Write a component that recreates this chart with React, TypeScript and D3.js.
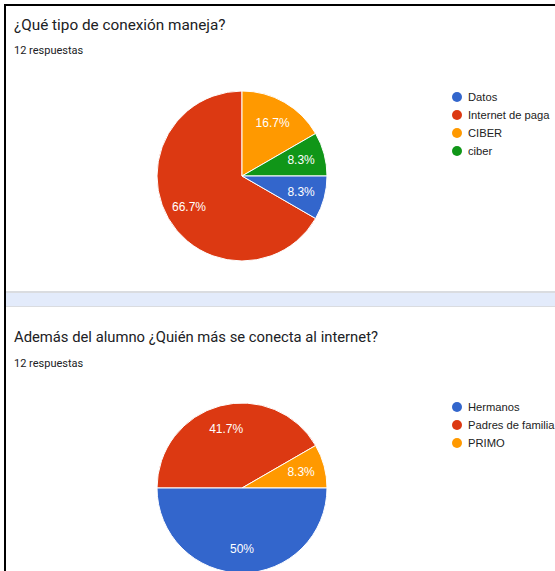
import React from "react";
import * as d3 from "d3";

const W = 555;
const H = 571;

// Chart 1
const title1 = "¿Qué tipo de conexión maneja?";
const sub1 = "12 respuestas";
const legend1 = ["Datos", "Internet de paga", "CIBER", "ciber"];
const legendColors1 = ["#3366cc", "#dc3912", "#ff9900", "#109618"];
// drawing order (clockwise)
const slices1 = ["Internet de paga", "CIBER", "ciber", "Datos"];
const values1 = [8, 2, 1, 1];
const labels1 = ["66.7%", "16.7%", "8.3%", "8.3%"];

// Chart 2
const title2 = "Además del alumno ¿Quién más se conecta al internet?";
const sub2 = "12 respuestas";
const legend2 = ["Hermanos", "Padres de familia", "PRIMO"];
const legendColors2 = ["#3366cc", "#dc3912", "#ff9900"];
const slices2 = ["Padres de familia", "PRIMO", "Hermanos"];
const values2 = [5, 1, 6];
const labels2 = ["41.7%", "8.3%", "50%"];

const FONT = "Roboto, Arial, sans-serif";

function Pie({ cx, cy, r, names, values, labels, legend, legendColors, startAngle, legendY }: any) {
  const color = d3.scaleOrdinal<string, string>().domain(legend).range(legendColors);
  const pie = d3.pie<number>().sort(null).startAngle(startAngle).endAngle(startAngle + 2 * Math.PI);
  const arcs = pie(values);
  const arc = d3.arc<any>().innerRadius(0).outerRadius(r);
  const labelArc = d3.arc<any>().innerRadius(r * 0.72).outerRadius(r * 0.72);
  const ly = d3.scalePoint<string>().domain(legend).range([legendY, legendY + 18 * (legend.length - 1)]);
  return (
    <g>
      <g transform={`translate(${cx},${cy})`}>
        {arcs.map((a, i) => (
          <path key={i} d={arc(a) as string} fill={color(names[i])} stroke="#fff" strokeWidth={1} />
        ))}
        {arcs.map((a, i) => {
          const [x, y] = labelArc.centroid(a);
          return (
            <text key={"l" + i} x={x} y={y} dy="0.35em" textAnchor="middle" fill="#fff"
              fontFamily="Arial, sans-serif" fontSize={12}>
              {labels[i]}
            </text>
          );
        })}
      </g>
      {legend.map((n: string) => (
        <g key={n} transform={`translate(457,${ly(n)})`}>
          <circle r={5} fill={color(n)} />
          <text x={11} dy="0.35em" fontFamily="Arial, sans-serif" fontSize={11.2} fill="#222">{n}</text>
        </g>
      ))}
    </g>
  );
}

export default function App() {
  return (
    <svg width={W} height={H} style={{ position: "absolute", left: 0, top: 0, background: "#fff" }}>
      <rect x={0} y={0} width={W} height={H} fill="#fff" />
      {/* separator band */}
      <rect x={6} y={291} width={W} height={16} fill="#dadce0" />
      <rect x={6} y={293} width={W} height={13} fill="#e3ebfb" />
      {/* frame */}
      <line x1={5} y1={5} x2={5} y2={H} stroke="#000" strokeWidth={2} />
      <line x1={4} y1={5} x2={W} y2={5} stroke="#000" strokeWidth={2} />

      <text x={14} y={30} fontFamily={FONT} fontSize={15.3} fill="#202124">{title1}</text>
      <text x={14} y={54} fontFamily={FONT} fontSize={11} fill="#202124">{sub1}</text>
      <Pie cx={242} cy={176} r={85} names={slices1} values={values1} labels={labels1}
        legend={legend1} legendColors={legendColors1} startAngle={(2 * Math.PI) / 3} legendY={97} />

      <text x={14} y={342} fontFamily={FONT} fontSize={14.8} fill="#202124">{title2}</text>
      <text x={14} y={367} fontFamily={FONT} fontSize={11} fill="#202124">{sub2}</text>
      <Pie cx={242} cy={488} r={85} names={slices2} values={values2} labels={labels2}
        legend={legend2} legendColors={legendColors2} startAngle={-Math.PI / 2} legendY={407} />
    </svg>
  );
}
